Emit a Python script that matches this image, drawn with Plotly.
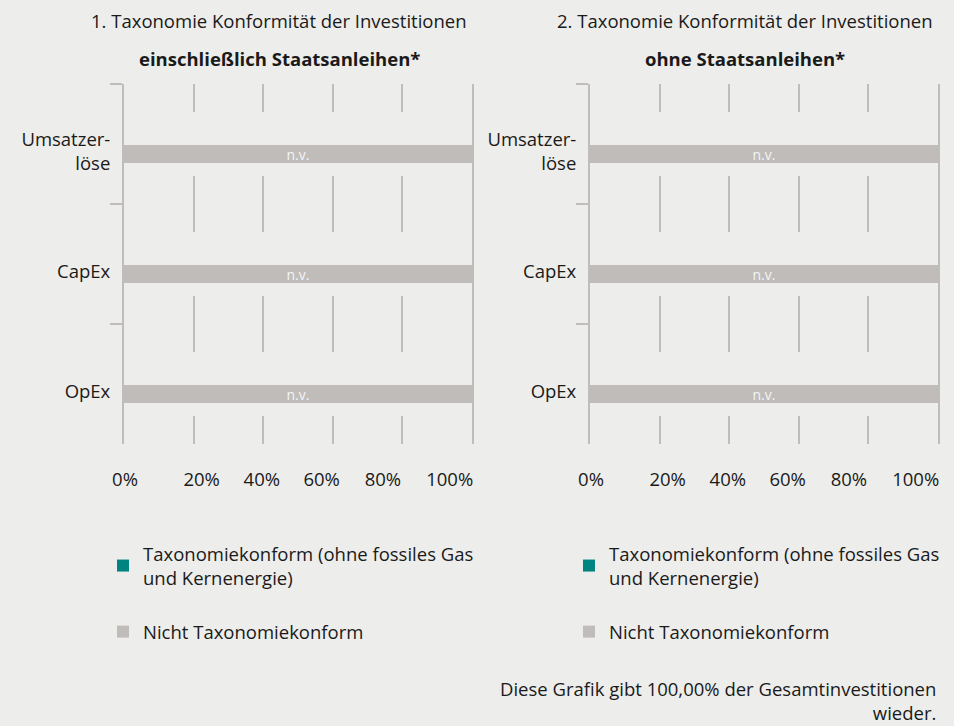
import plotly.graph_objects as go

# ---------------- data ----------------
categories = ["Umsatzer-<br>löse", "CapEx", "OpEx"]
konform_incl = [0, 0, 0]          # Taxonomiekonform (ohne fossiles Gas und Kernenergie)
nicht_incl = [100, 100, 100]      # Nicht Taxonomiekonform
konform_excl = [0, 0, 0]
nicht_excl = [100, 100, 100]
bar_labels = ["n.v.", "n.v.", "n.v."]
grid_values = [0, 20, 40, 60, 80, 100]
x_tick_labels = ["0%", "20%", "40%", "60%", "80%", "100%"]
panel_titles = ["1. Taxonomie Konformität der Investitionen",
                "2. Taxonomie Konformität der Investitionen"]
panel_subtitles = ["einschließlich Staatsanleihen*", "ohne Staatsanleihen*"]
legend_names = ["Taxonomiekonform (ohne fossiles Gas<br>und Kernenergie)",
                "Nicht Taxonomiekonform"]
footer = "Diese Grafik gibt 100,00% der Gesamtinvestitionen<br>wieder."

# ---------------- style / layout ----------------
# the source places the percent labels slightly apart from the grid lines
LABEL_POS = [0.3, 22.3, 39.6, 56.8, 74.4, 93.6]
BG = "#ededeb"
GREY = "#c0bcba"
TEAL = "#008481"
TXT = "#1a1a1a"
FONT = "Open Sans"
FS = 18.5
W, H = 954, 726

fig = go.Figure()

panels = [
    dict(konf=konform_incl, nicht=nicht_incl, xa="x", ya="y", leg="legend"),
    dict(konf=konform_excl, nicht=nicht_excl, xa="x2", ya="y2", leg="legend2"),
]

for i, p in enumerate(panels):
    full = [k + n for k, n in zip(p["konf"], p["nicht"])]
    # background band that interrupts the grid lines around each category
    fig.add_trace(go.Bar(
        y=categories, x=full, orientation="h", width=0.54,
        marker=dict(color=BG, line=dict(width=0)),
        showlegend=False, hoverinfo="skip", xaxis=p["xa"], yaxis=p["ya"],
    ))
    fig.add_trace(go.Bar(
        y=categories, x=p["konf"], orientation="h", width=0.15, offset=-0.158,
        marker=dict(color=TEAL, line=dict(width=0)),
        name=legend_names[0], legend=p["leg"], legendgroup="a%d" % i,
        xaxis=p["xa"], yaxis=p["ya"],
    ))
    fig.add_trace(go.Bar(
        y=categories, x=p["nicht"], base=p["konf"], orientation="h",
        width=0.15, offset=-0.158,
        marker=dict(color=GREY, line=dict(width=0)),
        text=bar_labels, textposition="inside", insidetextanchor="middle",
        constraintext="none",
        textfont=dict(color="#f4f4f4", size=14, family=FONT),
        name=legend_names[1], legend=p["leg"], legendgroup="b%d" % i,
        xaxis=p["xa"], yaxis=p["ya"],
    ))

xd = [(124 / W, 472 / W), (590 / W, 938 / W)]
yd = (1 - 444 / H, 1 - 84 / H)

axis_common_x = dict(
    range=[0, 100], tickmode="array", tickvals=LABEL_POS, ticktext=x_tick_labels,
    showgrid=False, zeroline=False, showline=False, ticks="",
    minor=dict(tickmode="array", tickvals=grid_values, showgrid=True,
               gridcolor=GREY, gridwidth=2, ticks=""),
    ticklabelstandoff=22, ticklabeloverflow="allow", automargin=False,
    tickfont=dict(size=FS, color=TXT, family=FONT), fixedrange=True,
)
axis_common_y = dict(
    type="category", categoryorder="array", categoryarray=categories[::-1],
    showgrid=False, zeroline=False, showline=True, linecolor=GREY, linewidth=2,
    mirror=True, ticks="outside", tickson="boundaries", ticklen=12,
    tickcolor=GREY, tickwidth=2, ticklabelstandoff=8, ticklabelshift=8,
    automargin=False,
    tickfont=dict(size=FS, color=TXT, family=FONT), fixedrange=True,
)

fig.update_layout(
    width=W, height=H, autosize=False,
    margin=dict(l=0, r=0, t=0, b=0, pad=0),
    paper_bgcolor=BG, plot_bgcolor=BG,
    barmode="overlay", bargap=0,
    font=dict(family=FONT, size=FS, color=TXT),
    xaxis=dict(domain=xd[0], anchor="y", **axis_common_x),
    yaxis=dict(domain=yd, anchor="x", **axis_common_y),
    xaxis2=dict(domain=xd[1], anchor="y2", **axis_common_x),
    yaxis2=dict(domain=yd, anchor="x2", **axis_common_y),
    legend=dict(x=103 / W, xanchor="left", y=1 - 535 / H, yanchor="top",
                bgcolor="rgba(0,0,0,0)", tracegroupgap=27,
                font=dict(size=FS, color=TXT, family=FONT)),
    legend2=dict(x=569 / W, xanchor="left", y=1 - 535 / H, yanchor="top",
                 bgcolor="rgba(0,0,0,0)", tracegroupgap=27,
                 font=dict(size=FS, color=TXT, family=FONT)),
)

annotations = []
for cx, t, s in zip([279, 745], panel_titles, panel_subtitles):
    annotations.append(dict(x=cx / W, y=1 - 20 / H, xref="paper", yref="paper",
                            text=t, showarrow=False, xanchor="center", yanchor="middle",
                            font=dict(size=FS, color=TXT, family=FONT)))
    annotations.append(dict(x=cx / W, y=1 - 58 / H, xref="paper", yref="paper",
                            text="<b>" + s + "</b>", showarrow=False,
                            xanchor="center", yanchor="middle",
                            font=dict(size=FS, color=TXT, family=FONT)))
annotations.append(dict(x=938 / W, y=1 - 700 / H, xref="paper", yref="paper",
                        text=footer, showarrow=False, xanchor="right", yanchor="middle",
                        align="right", font=dict(size=FS, color=TXT, family=FONT)))
fig.update_layout(annotations=annotations)

fig.write_html(
    "out.html",
    config={"responsive": False, "displayModeBar": False},
    post_script="document.body.style.margin='0';document.body.style.overflow='hidden';",
)
